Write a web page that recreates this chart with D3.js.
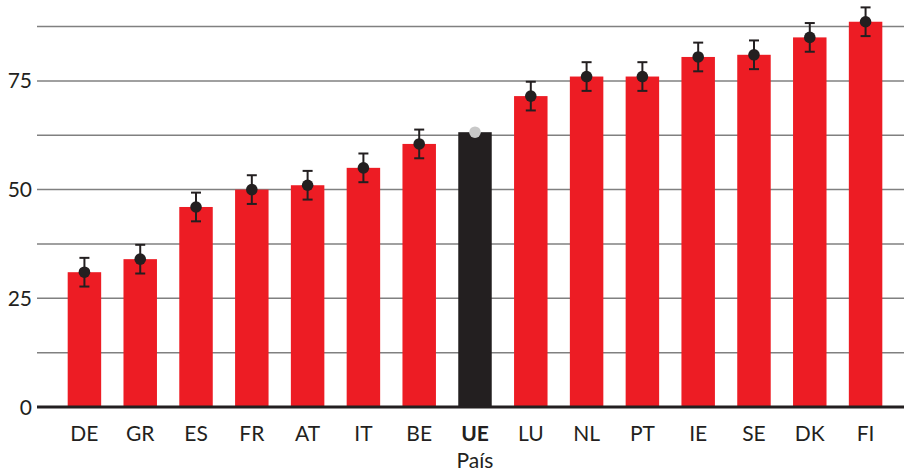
<!DOCTYPE html>
<html>
<head>
<meta charset="utf-8">
<script src="https://cdn.jsdelivr.net/npm/d3@7"></script>
<style>
  body { margin: 0; background: #fff; }
  text { font-family: Lato, "Noto Sans", sans-serif; fill: #231f20; }
</style>
</head>
<body>
<div id="chart"></div>
<script>
// values
var countries = ["DE", "GR", "ES", "FR", "AT", "IT", "BE", "UE", "LU", "NL", "PT", "IE", "SE", "DK", "FI"];
var values = [31, 34, 46, 50, 51, 55, 60.5, 63.2, 71.5, 76, 76, 80.5, 81, 85, 88.6];
var errors = [3.3, 3.3, 3.3, 3.3, 3.3, 3.3, 3.3, 0, 3.3, 3.3, 3.3, 3.3, 3.3, 3.3, 3.3];
var yTicks = [0, 25, 50, 75];
var gridTicks = [12.5, 25, 37.5, 50, 62.5, 75, 87.5];
var highlight = "UE";

var width = 904,
    height = 476;

var left = 37,
    bottom = 407;

var svg = d3.select("#chart").append("svg")
  .attr("width", width)
  .attr("height", height);

var x = d3.scaleBand()
  .domain(countries)
  .range([left, 913])
  .paddingInner(0.4)
  .paddingOuter(0.55);

var y = d3.scaleLinear()
  .domain([0, 93.6])
  .range([bottom, 0]);

// grid
svg.append("g").selectAll("line")
  .data(gridTicks)
  .enter().append("line")
  .attr("x1", left)
  .attr("x2", width)
  .attr("y1", function(d) { return y(d); })
  .attr("y2", function(d) { return y(d); })
  .attr("stroke", "#808080")
  .attr("stroke-width", 1.5);

// y labels
svg.append("g").selectAll("text")
  .data(yTicks)
  .enter().append("text")
  .attr("x", 32)
  .attr("y", function(d) { return y(d) + 7.5; })
  .attr("text-anchor", "end")
  .style("font-size", "21px")
  .text(function(d) { return d; });

var data = countries.map(function(c, i) {
  return {c: c, v: values[i], e: errors[i]};
});

// bars
svg.append("g").selectAll("rect")
  .data(data)
  .enter().append("rect")
  .attr("x", function(d) { return x(d.c); })
  .attr("width", x.bandwidth())
  .attr("y", function(d) { return y(d.v); })
  .attr("height", function(d) { return y(0) - y(d.v); })
  .attr("fill", function(d) { return d.c === highlight ? "#231f20" : "#ed1c24"; });

// zero line
svg.append("line")
  .attr("x1", left)
  .attr("x2", width)
  .attr("y1", y(0))
  .attr("y2", y(0))
  .attr("stroke", "#231f20")
  .attr("stroke-width", 3);

// error bars
var eb = svg.append("g").selectAll("g")
  .data(data.filter(function(d) { return d.e > 0; }))
  .enter().append("g")
  .attr("stroke", "#231f20")
  .attr("stroke-width", 2);

eb.append("line")
  .attr("x1", function(d) { return x(d.c) + x.bandwidth() / 2; })
  .attr("x2", function(d) { return x(d.c) + x.bandwidth() / 2; })
  .attr("y1", function(d) { return y(d.v + d.e); })
  .attr("y2", function(d) { return y(d.v - d.e); });

[1, -1].forEach(function(s) {
  eb.append("line")
    .attr("x1", function(d) { return x(d.c) + x.bandwidth() / 2 - 5; })
    .attr("x2", function(d) { return x(d.c) + x.bandwidth() / 2 + 5; })
    .attr("y1", function(d) { return y(d.v + s * d.e); })
    .attr("y2", function(d) { return y(d.v + s * d.e); });
});

// points
svg.append("g").selectAll("circle")
  .data(data)
  .enter().append("circle")
  .attr("cx", function(d) { return x(d.c) + x.bandwidth() / 2; })
  .attr("cy", function(d) { return y(d.v); })
  .attr("r", 5.8)
  .attr("fill", function(d) { return d.c === highlight ? "#c8c8c8" : "#231f20"; });

// x labels
svg.append("g").selectAll("text")
  .data(countries)
  .enter().append("text")
  .attr("x", function(d) { return x(d) + x.bandwidth() / 2; })
  .attr("y", 441)
  .attr("text-anchor", "middle")
  .style("font-size", "21px")
  .style("font-weight", function(d) { return d === highlight ? "bold" : "normal"; })
  .text(function(d) { return d; });

svg.append("text")
  .attr("x", x(highlight) + x.bandwidth() / 2)
  .attr("y", 468)
  .attr("text-anchor", "middle")
  .style("font-size", "21px")
  .text("País");
</script>
</body>
</html>
